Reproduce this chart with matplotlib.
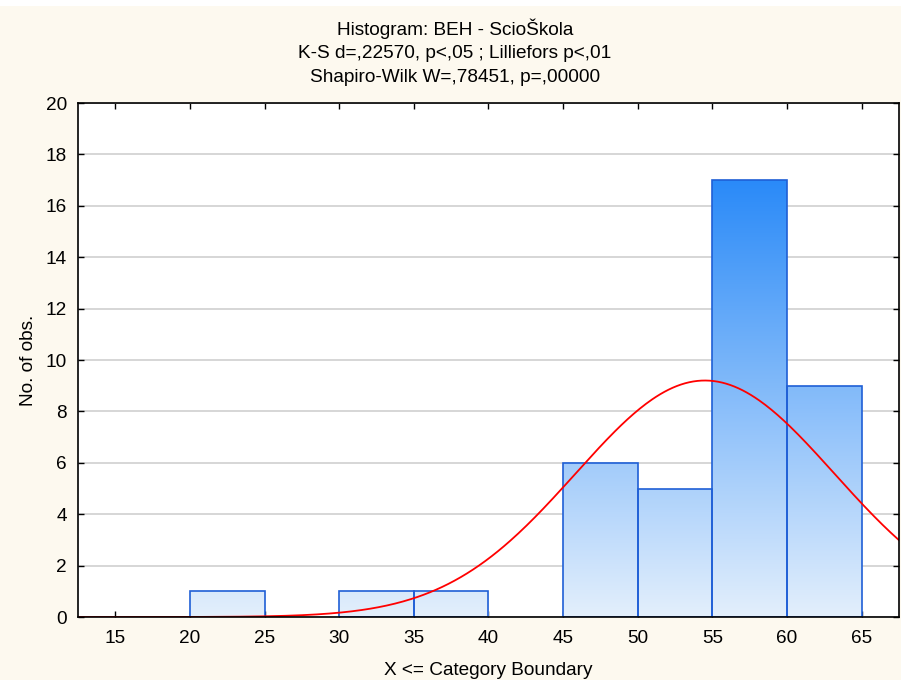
import numpy as np
import matplotlib.pyplot as plt
from matplotlib.colors import LinearSegmentedColormap
from matplotlib.patches import Rectangle

plt.rcParams['font.family'] = ['Liberation Sans', 'DejaVu Sans']

# histogram bins (upper boundary inclusive) and counts
bin_left = [20, 30, 35, 45, 50, 55, 60]
bin_width = 5
counts = [1, 1, 1, 6, 5, 17, 9]
# fitted normal curve parameters
n_obs = 40
mean_x = 54.5
sd_x = 8.67

title_lines = ["Histogram: BEH - ScioŠkola",
               "K-S d=,22570, p<,05 ; Lilliefors p<,01",
               "Shapiro-Wilk W=,78451, p=,00000"]

bg = '#fdf9ef'
fs = 13.7
fig = plt.figure(figsize=(9.01, 6.80), dpi=100, facecolor=bg)
fig.patches.append(Rectangle((0, 0.991), 1, 0.009, transform=fig.transFigure,
                             facecolor='white', edgecolor='none', zorder=0))
ax = fig.add_axes([78 / 901, 0.0926, (899 - 78) / 901, 0.7559])
ax.set_facecolor('white')

xmin, xmax = 12.5, 67.5

# gradient used for bar fill, light at zero, saturated blue at the tallest bar
cmap = LinearSegmentedColormap.from_list('bars', ['#e3effc', '#2a8af8'])
top = max(counts)
grad = np.linspace(0, 1, 256).reshape(-1, 1)

for left, c in zip(bin_left, counts):
    rect = Rectangle((left, 0), bin_width, c, facecolor='none',
                     edgecolor='#1f5fd6', linewidth=1.2, zorder=4)
    ax.add_patch(rect)
    im = ax.imshow(grad, cmap=cmap, origin='lower', aspect='auto',
                   extent=(xmin, xmax, 0, top), zorder=3, interpolation='bilinear')
    im.set_clip_path(rect)

ax.set_xlim(xmin, xmax)
ax.set_ylim(0, 20)

xs = np.linspace(xmin, xmax, 400)
ys = n_obs * bin_width / (sd_x * np.sqrt(2 * np.pi)) * np.exp(-0.5 * ((xs - mean_x) / sd_x) ** 2)
ax.plot(xs, ys, color='#ff0000', linewidth=1.3, zorder=5)

ax.set_xticks(range(15, 70, 5))
ax.set_yticks(range(0, 22, 2))
ax.yaxis.grid(True, color='#d6d6d6', linewidth=1.4)
ax.set_axisbelow(True)
ax.tick_params(direction='in', length=4, width=1, top=True, right=True,
               labelsize=fs, colors='black')
ax.tick_params(axis='x', pad=9)
ax.tick_params(axis='y', pad=8)
for s in ax.spines.values():
    s.set_linewidth(1.2)
    s.set_zorder(6)

ax.set_xlabel("X <= Category Boundary", fontsize=fs, labelpad=11)
ax.set_ylabel("No. of obs.", fontsize=fs, labelpad=6)

for i, line in enumerate(title_lines):
    fig.text(455 / 901, 1 - (29 + 24 * i) / 680, line, ha='center', va='center', fontsize=fs)

fig.savefig('out.png', dpi=100, facecolor=bg)
